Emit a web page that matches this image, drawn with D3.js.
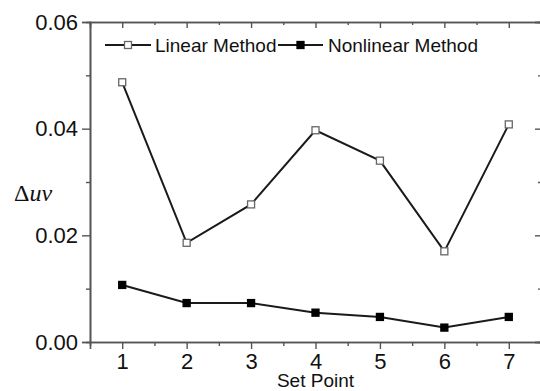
<!DOCTYPE html>
<html>
<head>
<meta charset="utf-8">
<script src="https://cdn.jsdelivr.net/npm/d3@7/dist/d3.min.js"></script>
<style>
  html, body { margin: 0; padding: 0; background: #fff; }
  svg { display: block; font-family: "Liberation Sans", Arial, sans-serif; }
</style>
</head>
<body>
<div id="chart"></div>
<script>
// 数据
const setPoints = [1, 2, 3, 4, 5, 6, 7];
const linearValues = [0.0487, 0.0186, 0.0258, 0.0397, 0.0340, 0.0170, 0.0408];
const nonlinearValues = [0.0107, 0.0073, 0.0073, 0.0055, 0.0047, 0.0027, 0.0047];
const yTicks = [0.00, 0.02, 0.04, 0.06];
const yMinorTicks = [0.01, 0.03, 0.05];
const xMinorTicks = [1.5, 2.5, 3.5, 4.5, 5.5, 6.5];

const width = 540, height = 391;
const margin = { left: 90, top: 22, right: 541, bottom: 342 };
const axisColor = '#555';

const svg = d3.select('#chart').append('svg')
    .attr('width', width)
    .attr('height', height);

const x = d3.scaleLinear().domain([0.5, 7.5]).range([margin.left, margin.right]);
const y = d3.scaleLinear().domain([0, 0.06]).range([margin.bottom, margin.top]);

// 坐标轴
svg.append('g')
    .attr('transform', `translate(0,${margin.bottom})`)
    .call(d3.axisBottom(x).tickValues(setPoints).tickFormat(d3.format('d')).tickSize(7).tickPadding(4));
svg.append('g')
    .attr('transform', `translate(0,${margin.bottom})`)
    .call(d3.axisBottom(x).tickValues(xMinorTicks).tickFormat('').tickSize(4));

svg.append('g')
    .attr('transform', `translate(${margin.left},0)`)
    .call(d3.axisLeft(y).tickValues(yTicks).tickFormat(d3.format('.2f')).tickSize(8).tickPadding(4));
svg.append('g')
    .attr('transform', `translate(${margin.left},0)`)
    .call(d3.axisLeft(y).tickValues(yMinorTicks).tickFormat('').tickSize(4));

// 上、右边框（刻度朝内）
svg.append('g')
    .attr('transform', `translate(0,${margin.top})`)
    .call(d3.axisTop(x).tickValues(setPoints).tickFormat('').tickSize(-6));
svg.append('g')
    .attr('transform', `translate(0,${margin.top})`)
    .call(d3.axisTop(x).tickValues(xMinorTicks).tickFormat('').tickSize(-3));
svg.append('g')
    .attr('transform', `translate(${margin.right},0)`)
    .call(d3.axisRight(y).tickValues(yTicks).tickFormat('').tickSize(-6));
svg.append('g')
    .attr('transform', `translate(${margin.right},0)`)
    .call(d3.axisRight(y).tickValues(yMinorTicks).tickFormat('').tickSize(-3));

svg.selectAll('.domain').attr('stroke', axisColor).attr('stroke-width', 1.6);
svg.selectAll('.tick line').attr('stroke', axisColor).attr('stroke-width', 1.4);
svg.selectAll('.tick text')
    .attr('fill', '#111')
    .style('font-family', '"Liberation Sans", Arial, sans-serif')
    .style('font-size', '22px');

// 轴标题
svg.append('text')
    .attr('x', (margin.left + margin.right) / 2)
    .attr('y', 387)
    .attr('text-anchor', 'middle')
    .attr('fill', '#111')
    .style('font-size', '19px')
    .text('Set Point');

svg.append('text')
    .attr('x', 14)
    .attr('y', 201)
    .attr('fill', '#111')
    .style('font-family', '"Liberation Serif", "Times New Roman", serif')
    .style('font-size', '24px')
    .html('Δ<tspan font-style="italic">uv</tspan>');

// 折线
const line = d3.line()
    .x((d, i) => x(setPoints[i]))
    .y(d => y(d));

const series = [
    { name: 'Linear Method', values: linearValues, fill: '#fff', stroke: '#666' },
    { name: 'Nonlinear Method', values: nonlinearValues, fill: '#000', stroke: '#000' }
];

series.forEach(s => {
    svg.append('path')
        .datum(s.values)
        .attr('d', line)
        .attr('fill', 'none')
        .attr('stroke', '#1a1a1a')
        .attr('stroke-width', 2);

    svg.append('g')
        .selectAll('rect')
        .data(s.values)
        .enter().append('rect')
        .attr('x', (d, i) => x(setPoints[i]) - 3.5)
        .attr('y', d => y(d) - 3.5)
        .attr('width', 7)
        .attr('height', 7)
        .attr('fill', s.fill)
        .attr('stroke', s.stroke)
        .attr('stroke-width', 1.3);
});

// 图例
const legendItems = [
    { lineX0: 105, lineX1: 151, textX: 155 },
    { lineX0: 278, lineX1: 323, textX: 328 }
];
series.forEach((s, i) => {
    const l = legendItems[i];
    const g = svg.append('g');
    g.append('line')
        .attr('x1', l.lineX0).attr('x2', l.lineX1)
        .attr('y1', 45).attr('y2', 45)
        .attr('stroke', '#1a1a1a')
        .attr('stroke-width', 2.2);
    g.append('rect')
        .attr('x', (l.lineX0 + l.lineX1) / 2 - 3.5)
        .attr('y', 41.5)
        .attr('width', 7).attr('height', 7)
        .attr('fill', s.fill)
        .attr('stroke', s.stroke)
        .attr('stroke-width', 1.3);
    g.append('text')
        .attr('x', l.textX)
        .attr('y', 52)
        .attr('fill', '#111')
        .style('font-size', '19px')
        .text(s.name);
});
</script>
</body>
</html>
